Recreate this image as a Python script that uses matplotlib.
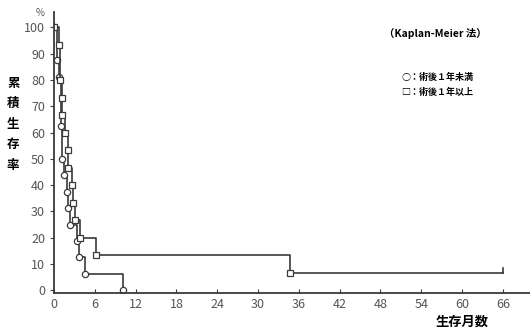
import matplotlib.pyplot as plt
import numpy as np

plt.rcParams['font.family'] = ['Noto Sans CJK JP', 'DejaVu Sans']

# 術後1年未満 (circles)
t_lt1 = [0, 0.45, 0.75, 1.07, 1.2, 1.5, 1.9, 2.1, 2.4, 3.4, 3.6, 4.6, 10.2]
s_lt1 = [100, 87.5, 81.25, 62.5, 50, 43.75, 37.5, 31.25, 25, 18.75, 12.5, 6.25, 0]

# 術後1年以上 (squares)
t_ge1 = [0, 0.75, 0.9, 1.1, 1.2, 1.6, 2.0, 2.1, 2.65, 2.8, 3.15, 3.8, 6.1, 34.7]
s_ge1 = [100, 93.3, 80, 73.3, 66.7, 60, 53.3, 46.7, 40, 33.3, 26.7, 20, 13.3, 6.7]
t_last = 66

xticks = [0, 6, 12, 18, 24, 30, 36, 42, 48, 54, 60, 66]
yticks = [0, 10, 20, 30, 40, 50, 60, 70, 80, 90, 100]

line_c = "#3a3a3a"

fig = plt.figure(figsize=(5.3, 3.31), dpi=100)
ax = fig.add_axes([0.102, 0.115, 0.898, 0.85])

ax.step(t_lt1, s_lt1, where="post", color=line_c, lw=1.2)
ax.plot(t_lt1, s_lt1, 'o', ms=4.5, mfc="white", mec=line_c, mew=0.9)

ax.step(t_ge1 + [t_last], s_ge1 + [s_ge1[-1]], where="post", color=line_c, lw=1.2)
ax.plot(t_ge1, s_ge1, 's', ms=4.3, mfc="white", mec=line_c, mew=0.9)
ax.plot([t_last, t_last], [s_ge1[-1], s_ge1[-1] + 1.8], color=line_c, lw=1.2)

ax.set_xlim(0, 70)
ax.set_ylim(-1, 106)
ax.set_xticks(xticks)
ax.set_yticks(yticks)
ax.tick_params(axis="x", direction="in", length=3, labelsize=9, labelcolor="#555555", color=line_c)
ax.tick_params(axis="y", direction="out", length=3, labelsize=9, labelcolor="#555555", color=line_c)
for sp in ["top", "right"]:
    ax.spines[sp].set_visible(False)
for sp in ["left", "bottom"]:
    ax.spines[sp].set_color(line_c)
    ax.spines[sp].set_linewidth(1.3)

fig.text(0.075, 0.96, "%", fontsize=7, color="#555555", ha="center", va="center")
fig.text(0.025, 0.625, "累\n積\n生\n存\n率", fontsize=9, fontweight="bold",
         ha="center", va="center", linespacing=1.75)
fig.text(0.872, 0.027, "生存月数", fontsize=9.5, fontweight="bold", ha="center", va="center")
fig.text(0.822, 0.90, "（Kaplan-Meier 法）", fontsize=7.5, fontweight="bold", ha="center", va="center")
fig.text(0.757, 0.765, "○：術後１年未満", fontsize=6.5, fontweight="bold", ha="left", va="center")
fig.text(0.757, 0.722, "□：術後１年以上", fontsize=6.5, fontweight="bold", ha="left", va="center")

plt.savefig("out.png", dpi=100)
plt.close()
